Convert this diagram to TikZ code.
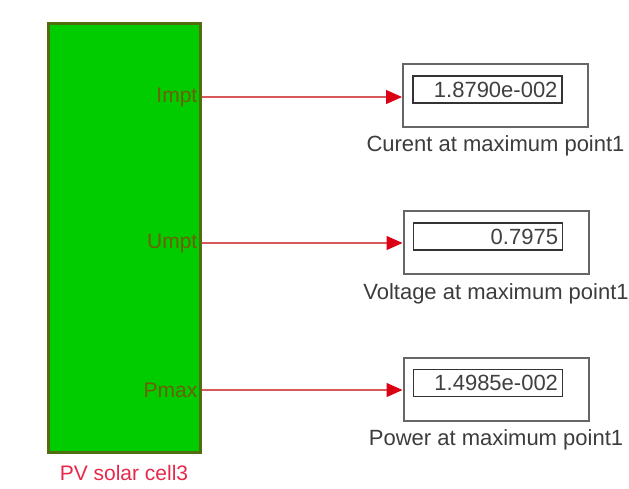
\documentclass[tikz,border=0pt]{standalone}
\usepackage{fontspec}
\setmainfont{Liberation Sans}
\usepackage{tikz}
\usetikzlibrary{arrows.meta, positioning}
\usepackage{xcolor}
\definecolor{blockgreen}{RGB}{0,204,0}
\definecolor{blockedge}{RGB}{80,110,15}
\definecolor{portlabel}{RGB}{110,95,0}
\definecolor{sigred}{RGB}{215,90,90}
\definecolor{tipred}{RGB}{220,0,20}
\definecolor{capgray}{RGB}{60,60,60}
\definecolor{namered}{RGB}{230,40,75}

\begin{document}
\begin{tikzpicture}[x=1pt, y=-1pt,
    every node/.style={font=\fontsize{21}{24}\selectfont},
    pvblock/.style={draw=blockedge, line width=3pt, fill=blockgreen,
      minimum width=152pt, minimum height=429pt, inner sep=0pt},
    portlbl/.style={text=portlabel, anchor=east, inner xsep=4pt},
    display/.style={draw=black!60, line width=2pt, fill=white,
      minimum width=185pt, minimum height=63pt, inner sep=0pt},
    readout/.style={draw=black!80, line width=1.6pt, fill=white,
      text=black!75, text width=140pt, align=right, inner xsep=4.5pt,
      inner ysep=0pt, minimum height=27pt, font=\fontsize{22}{24}\selectfont},
    caption/.style={text=capgray, inner sep=2pt, font=\fontsize{22}{24}\selectfont},
    signal/.style={draw=sigred, line width=1.4pt,
      -{Triangle[length=16pt, width=14pt, color=tipred]}}]
  \useasboundingbox (0,0) rectangle (629,488);

  % PV block with its output ports
  \node[pvblock] (pv) at (124,237.5) {};
  \node[text=namered, below=8pt of pv] (pvname) {PV solar cell3};
  \coordinate (port-i) at (pv.east |- 0,97);
  \coordinate (port-u) at (pv.east |- 0,243);
  \coordinate (port-p) at (pv.east |- 0,390);
  \node[portlbl] at (port-i) {Impt};
  \node[portlbl] at (port-u) {Umpt};
  \node[portlbl] at (port-p) {Pmax};

  % display blocks
  \node[display] (disp-i) at (495.5,95) {};
  \node[readout] (val-i) at ([xshift=-8pt, yshift=5.5pt]disp-i.center) {1.8790e-002};
  \node[caption, below=6pt of disp-i] (cap-i) {Curent at maximum point1};

  \node[display] (disp-u) at (496,242.5) {};
  \node[readout] (val-u) at ([xshift=-8pt, yshift=6pt]disp-u.center) {0.7975};
  \node[caption, below=6pt of disp-u] (cap-u) {Voltage at maximum point1};

  \node[display] (disp-p) at (496,389) {};
  \node[readout] (val-p) at ([xshift=-8pt, yshift=6pt]disp-p.center) {1.4985e-002};
  \node[caption, below=6pt of disp-p] (cap-p) {Power at maximum point1};

  % signal lines
  \draw[signal] (port-i) -- (disp-i.west |- port-i);
  \draw[signal] (port-u) -- (disp-u.west |- port-u);
  \draw[signal] (port-p) -- (disp-p.west |- port-p);
\end{tikzpicture}
\end{document}
